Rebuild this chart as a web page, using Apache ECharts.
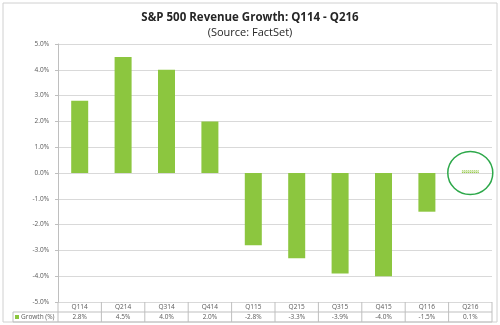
<!DOCTYPE html>
<html><head><meta charset="utf-8">
<script src="https://cdn.jsdelivr.net/npm/echarts@6/dist/echarts.min.js"></script>
<style>html,body{margin:0;padding:0;background:#fff}#c{width:500px;height:325px}</style>
</head><body><div id="c"></div>
<script>
const categories = ['Q114','Q214','Q314','Q414','Q115','Q215','Q315','Q415','Q116','Q216'];
const growth = [2.8, 4.5, 4.0, 2.0, -2.8, -3.3, -3.9, -4.0, -1.5, 0.1];
const growthLabels = ['2.8%','4.5%','4.0%','2.0%','-2.8%','-3.3%','-3.9%','-4.0%','-1.5%','0.1%'];
const yTicks = [-5,-4,-3,-2,-1,0,1,2,3,4,5];
const seriesName = 'Growth (%)';

const green = '#8cc63f';
const txt = '#595959';
const gridC = '#d9d9d9';
const chart = echarts.init(document.getElementById('c'), null, {renderer:'canvas'});
const font = 'Open Sans';

const barData = growth.map((v,i)=> i===growth.length-1 ? {
  value:v, itemStyle:{color:'#d6e9b8', decal:{symbol:'rect', dashArrayX:[1,1], dashArrayY:[1,1], color:'#9acd50'}}
} : v);

chart.setOption({
  animation:false,
  textStyle:{fontFamily:font},
  title:[
    {text:'S&P 500 Revenue Growth: Q114 - Q216', left:'center', top:7, textStyle:{fontSize:11.5, fontWeight:'bold', color:'#262626', fontFamily:font}},
    {text:'(Source: FactSet)', left:'center', top:22, textStyle:{fontSize:11, fontWeight:'normal', color:'#262626', fontFamily:font}}
  ],
  grid:{left:58, right:8, top:44, bottom:23, containLabel:false},
  yAxis:{type:'value', min:-5, max:5, interval:1,
    axisLine:{show:true, lineStyle:{color:'#bfbfbf'}},
    axisTick:{show:true, length:3, lineStyle:{color:'#bfbfbf'}},
    splitLine:{lineStyle:{color:gridC}},
    axisLabel:{fontSize:6.5, color:txt, margin:9, formatter:v=>v.toFixed(1)+'%'}},
  xAxis:[
    {type:'category', data:categories, position:'bottom', offset:0,
      axisLine:{show:false}, axisTick:{show:false},
      axisLabel:{fontSize:6.5, color:txt, margin:2, interval:0}},
    {type:'category', data:growthLabels, position:'bottom', offset:10,
      axisLine:{show:false}, axisTick:{show:false},
      axisLabel:{fontSize:6.5, color:txt, margin:2, interval:0}}
  ],
  series:[{type:'bar', name:seriesName, data:barData, barWidth:17, xAxisIndex:0,
    itemStyle:{color:green}}]
});

function drawExtras(){
  const y0 = chart.convertToPixel({yAxisIndex:0}, -5);
  const rowH = 10;
  const xL = chart.convertToPixel({xAxisIndex:0}, categories[0]);
  const xR = chart.convertToPixel({xAxisIndex:0}, categories[categories.length-1]);
  const step = (xR - xL)/(categories.length-1);
  const left = xL - step/2, right = xR + step/2;
  const lc = '#bfbfbf';
  const els = [];
  els.push({type:'rect', shape:{x:3,y:3,width:494,height:319}, style:{fill:null, stroke:'#d0d0d0', lineWidth:1}, silent:true});
  els.push({type:'line', shape:{x1:left,y1:y0+rowH,x2:right,y2:y0+rowH}, style:{stroke:lc}});
  els.push({type:'line', shape:{x1:13,y1:y0+rowH,x2:left,y2:y0+rowH}, style:{stroke:lc}});
  els.push({type:'line', shape:{x1:13,y1:y0+2*rowH,x2:right,y2:y0+2*rowH}, style:{stroke:lc}});
  els.push({type:'line', shape:{x1:13,y1:y0+rowH,x2:13,y2:y0+2*rowH}, style:{stroke:lc}});
  for(let k=0;k<=categories.length;k++){
    const x = left + k*step;
    els.push({type:'line', shape:{x1:x,y1:y0,x2:x,y2:y0+2*rowH}, style:{stroke:lc}});
  }
  els.push({type:'rect', shape:{x:15,y:y0+rowH+3,width:4,height:4}, style:{fill:green}});
  els.push({type:'text', x:21, y:y0+rowH+5, style:{text:seriesName, fontSize:6.5, fill:txt, fontFamily:font, verticalAlign:'middle'}});
  const last = chart.convertToPixel({xAxisIndex:0, yAxisIndex:0}, [categories.length-1, growth[growth.length-1]]);
  const zero = chart.convertToPixel({yAxisIndex:0}, 0);
  els.push({type:'ellipse', shape:{cx:last[0], cy:zero, rx:22.5, ry:21.5}, style:{fill:null, stroke:'#2da84a', lineWidth:1.5}});
  chart.setOption({graphic:{elements:els}});
}
drawExtras();
</script>
</body></html>
